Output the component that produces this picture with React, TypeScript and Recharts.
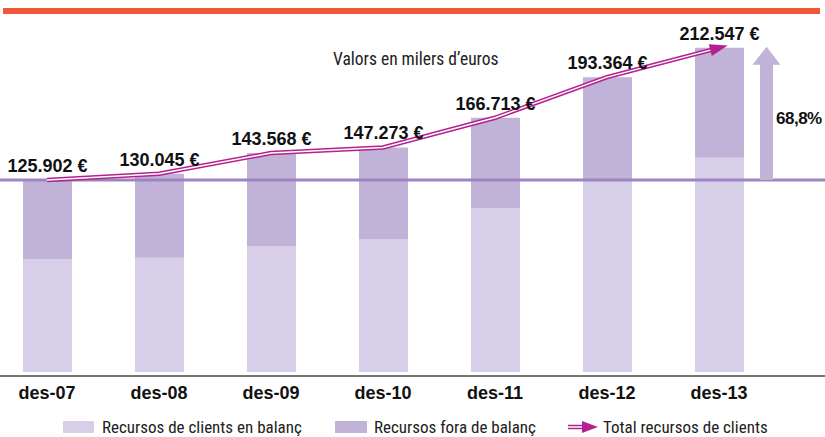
import React from 'react'
import { ComposedChart, Bar, Line, XAxis, YAxis, ReferenceLine, LabelList, Legend } from 'recharts'

const categories = ['des-07', 'des-08', 'des-09', 'des-10', 'des-11', 'des-12', 'des-13']
const totals = [125902, 130045, 143568, 147273, 166713, 193364, 212547]
const onBalance = [74100, 74950, 82600, 87200, 107500, 125250, 140500]
const offBalance = [51802, 55095, 60968, 60073, 59213, 68114, 72047]
const seriesNames = ['Recursos de clients en balanç', 'Recursos fora de balanç', 'Total recursos de clients']
const unitsNote = 'Valors en milers d\u2019euros'

const LIGHT = '#d7cfe7'
const DARK = '#c1b2d8'
const MAGENTA = '#b5228f'
const GUIDE = '#9d84c3'
const BOLD_FONT = '"Liberation Sans", Arial, sans-serif'
const NARROW_FONT = '"Liberation Sans Narrow", "Roboto Condensed", "Arial Narrow", sans-serif'

const data = categories.map((c, i) => ({
  name: c,
  balance: onBalance[i],
  offBalance: offBalance[i],
  total: totals[i]
}))

const fmt = (v: number) => String(v).replace(/\B(?=(\d{3})+(?!\d))/g, '.') + ' €'

const growth = ((totals[totals.length - 1] / totals[0] - 1) * 100).toFixed(1).replace('.', ',') + '%'

const TotalLabel = (props: any) => {
  const { x, y, width, index } = props
  return (
    <text
      x={x + width / 2}
      y={y - 8}
      textAnchor="middle"
      fontFamily={BOLD_FONT}
      fontWeight={700}
      fontSize={18}
      fill="#111"
    >
      {fmt(totals[index])}
    </text>
  )
}

const ArrowHead = (props: any) => {
  const { cx, cy, index, points } = props
  if (index !== totals.length - 1 || cx == null) return <g key={index} />
  let dx = 1
  let dy = -0.25
  if (points && points[index - 1]) {
    dx = cx - points[index - 1].x
    dy = cy - points[index - 1].y
  }
  const len = Math.sqrt(dx * dx + dy * dy)
  const ux = dx / len
  const uy = dy / len
  const tx = cx + ux * 9
  const ty = cy + uy * 9
  const bx = tx - ux * 18
  const by = ty - uy * 18
  const nx = -uy * 6
  const ny = ux * 6
  return (
    <polygon
      key={index}
      points={`${tx},${ty} ${bx + nx},${by + ny} ${bx - nx},${by - ny}`}
      fill={MAGENTA}
    />
  )
}

const GrowthArrow = (props: any) => {
  const { x1, y1, y2 } = props
  const cx = x1 + 47.5
  const bottom = Math.max(y1, y2)
  const tip = Math.min(y1, y2) - 1
  const headBase = tip + 18
  return (
    <g>
      <polygon
        points={`${cx},${tip} ${cx + 14},${headBase} ${cx + 6.5},${headBase} ${cx + 6.5},${bottom} ${cx - 6.5},${bottom} ${cx - 6.5},${headBase} ${cx - 14},${headBase}`}
        fill={DARK}
      />
      <text
        x={cx + 9.5}
        y={(bottom + tip) / 2 + 11}
        fontFamily={BOLD_FONT}
        fontWeight={700}
        fontSize={17}
        letterSpacing={-0.5}
        fill="#111"
      >
        {growth}
      </text>
    </g>
  )
}

const itemStyle = (left: number): React.CSSProperties => ({
  position: 'absolute',
  left,
  top: 0,
  height: 14,
  display: 'flex',
  alignItems: 'center',
  whiteSpace: 'nowrap'
})

const LegendContent = () => (
  <div
    style={{
      position: 'relative',
      height: 31,
      fontFamily: NARROW_FONT,
      fontSize: 17,
      color: '#222',
      lineHeight: '14px'
    }}
  >
    <div style={{ position: 'absolute', left: 0, top: 14, width: 825, height: 14 }}>
      <span style={{ ...itemStyle(63), width: 31, top: 1, height: 12, background: LIGHT }} />
      <span style={itemStyle(102)}>{seriesNames[0]}</span>
      <span style={{ ...itemStyle(335), width: 32, top: 1, height: 12, background: DARK }} />
      <span style={itemStyle(374)}>{seriesNames[1]}</span>
      <svg width={30} height={14} style={{ position: 'absolute', left: 568, top: 0 }}>
        <line x1={0} y1={7} x2={18} y2={7} stroke={MAGENTA} strokeWidth={4.5} />
        <line x1={0} y1={7} x2={18} y2={7} stroke="#fff" strokeWidth={1.5} />
        <polygon points="30,7 14,1 14,13" fill={MAGENTA} />
      </svg>
      <span style={itemStyle(603)}>{seriesNames[2]}</span>
    </div>
  </div>
)

const App: React.FC = () => {
  return (
    <div style={{ position: 'absolute', left: 0, top: 0, width: 825, height: 437, background: '#fff' }}>
      <div style={{ position: 'absolute', left: 3, top: 8, width: 817, height: 6, background: '#f1553a' }} />
      <div
        style={{
          position: 'absolute',
          left: 333,
          top: 50,
          fontFamily: NARROW_FONT,
          fontSize: 17.5,
          lineHeight: '18px',
          color: '#222',
          whiteSpace: 'nowrap'
        }}
      >
        {unitsNote}
      </div>
      <ComposedChart width={825} height={437} data={data} margin={{ top: 6, right: 0, bottom: 0, left: 0 }}>
        <XAxis
          dataKey="name"
          interval={0}
          padding={{ left: -9, right: 50 }}
          tickLine={false}
          tickSize={0}
          tickMargin={10}
          height={30}
          axisLine={{ stroke: '#444', strokeWidth: 1.5 }}
          tick={{ fontSize: 18, fontWeight: 700, fill: '#111', fontFamily: BOLD_FONT }}
        />
        <YAxis hide domain={[-2600, 240000]} />
        <Bar dataKey="balance" stackId="a" fill={LIGHT} barSize={49} isAnimationActive={false} />
        <Bar dataKey="offBalance" stackId="a" fill={DARK} barSize={49} isAnimationActive={false}>
          <LabelList dataKey="total" content={TotalLabel} />
        </Bar>
        <ReferenceLine y={totals[0]} stroke={GUIDE} strokeWidth={3} />
        <ReferenceLine
          segment={[
            { x: categories[categories.length - 1], y: totals[0] },
            { x: categories[categories.length - 1], y: totals[totals.length - 1] }
          ]}
          shape={GrowthArrow}
        />
        <Line
          type="linear"
          dataKey="total"
          stroke={MAGENTA}
          strokeWidth={4.5}
          dot={false}
          activeDot={false}
          isAnimationActive={false}
        />
        <Line
          type="linear"
          dataKey="total"
          stroke="#fff"
          strokeWidth={1.5}
          dot={ArrowHead}
          activeDot={false}
          isAnimationActive={false}
        />
        <Legend content={LegendContent} />
      </ComposedChart>
    </div>
  )
}

export default App
